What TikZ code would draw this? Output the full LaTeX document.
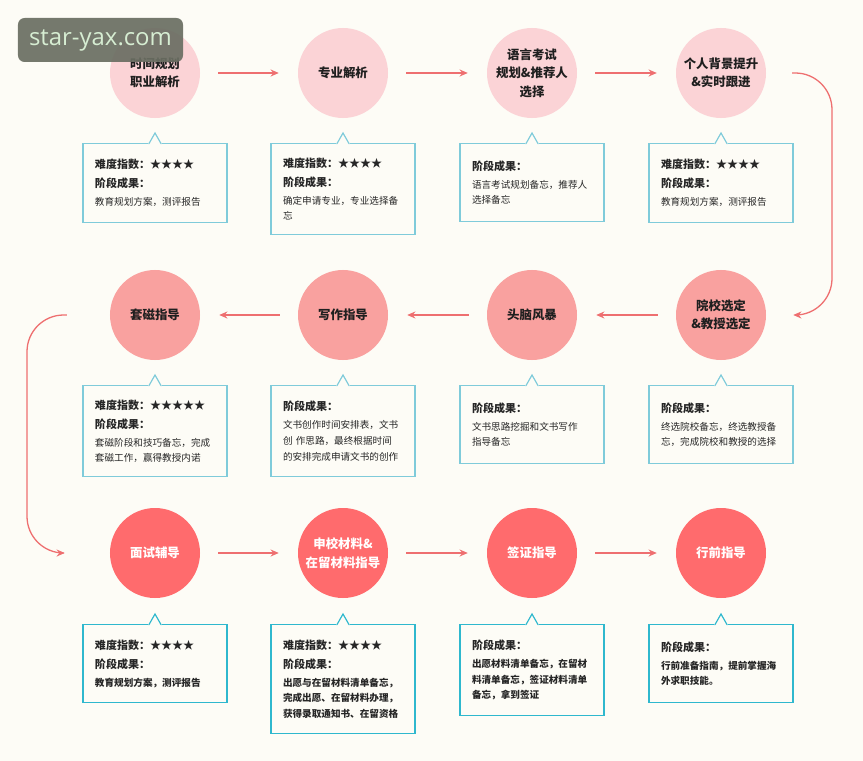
\documentclass[tikz,border=0pt]{standalone}
\usepackage{fontspec}
\newfontfamily\cjk{Noto Sans CJK SC}
\newfontfamily\wmfont{Open Sans}
\usetikzlibrary{arrows.meta}

\definecolor{bgpaper}{HTML}{FDFCF6}
\definecolor{pinkA}{HTML}{FBD3D6}
\definecolor{pinkB}{HTML}{F9A19F}
\definecolor{pinkC}{HTML}{FF6B6D}
\definecolor{arrowred}{HTML}{EE6F70}
\definecolor{boxblue}{HTML}{7FCBDA}
\definecolor{boxcyan}{HTML}{2FB8CE}
\definecolor{wmgray}{HTML}{6A6E62}
\definecolor{wmtext}{HTML}{D6EDD2}

\newcommand{\hd}[1]{{\bfseries\fontsize{9.4}{13.3}\selectfont #1}}
\newcommand{\notch}[2]{%
  \fill[bgpaper] ([xshift=-0.2cm,yshift=-1pt]#1.north) rectangle ([xshift=0.2cm]#1.north);
  \fill[bgpaper] ([xshift=-0.18cm,yshift=-0.5pt]#1.north) -- ([yshift=0.3cm]#1.north) -- ([xshift=0.18cm,yshift=-0.5pt]#1.north) -- cycle;
  \draw[#2, line width=1pt] ([xshift=-0.2cm,yshift=-0.5pt]#1.north) -- ([xshift=-0.18cm,yshift=-0.5pt]#1.north) -- ([yshift=0.3cm]#1.north) -- ([xshift=0.18cm,yshift=-0.5pt]#1.north) -- ([xshift=0.2cm,yshift=-0.5pt]#1.north);}

\tikzset{
  phase/.style={circle, minimum size=2.7cm, inner sep=0pt, align=center, text=black!88,
    font=\cjk\bfseries\fontsize{10.6}{15.8}\selectfont},
  phaseA/.style={phase, fill=pinkA},
  phaseB/.style={phase, fill=pinkB},
  phaseC/.style={phase, fill=pinkC, text=white},
  info/.style={draw=boxblue, line width=1pt, anchor=north, text width=3.6cm, inner xsep=0.36cm,
    inner ysep=0pt, align=left, text=black!85, font=\cjk\fontsize{8.2}{13.3}\selectfont},
  infoC/.style={info, draw=boxcyan, font=\cjk\bfseries\fontsize{8.2}{13.3}\selectfont},
  flow/.style={draw=arrowred, line width=1.1pt, -{Stealth[length=7pt,width=6pt]}},
  wmbox/.style={fill=wmgray, fill opacity=0.92, text opacity=1, text=wmtext, rounded corners=0.2cm,
    minimum width=4.95cm, minimum height=1.32cm, font=\wmfont\fontsize{20.4}{24}\selectfont}
}

\begin{document}
\begin{tikzpicture}[x=0.03cm, y=-0.03cm]
        \useasboundingbox (0,0) rectangle (863,761);
        \fill[bgpaper] (0,0) rectangle (863,761);

        %%%%%%%%% Fasi riga 1 %%%%%%%%%
        \node[phaseA] (p1) at (155,73) {时间规划\\职业解析};
        \node[phaseA] (p2) at (343,73) {专业解析};
        \node[phaseA] (p3) at (532,73) {语言考试\\规划\&推荐人\\选择};
        \node[phaseA] (p4) at (721,73) {个人背景提升\\\&实时跟进};

        %%%%%%%%% Fasi riga 2 %%%%%%%%%
        \node[phaseB] (p5) at (721,315) {院校选定\\\&教授选定};
        \node[phaseB] (p6) at (532,315) {头脑风暴};
        \node[phaseB] (p7) at (343,315) {写作指导};
        \node[phaseB] (p8) at (155,315) {套磁指导};

        %%%%%%%%% Fasi riga 3 %%%%%%%%%
        \node[phaseC] (p9) at (155,553) {面试辅导};
        \node[phaseC] (p10) at (343,553) {申校材料\&\\在留材料指导};
        \node[phaseC] (p11) at (532,553) {签证指导};
        \node[phaseC] (p12) at (721,553) {行前指导};

        %%%%%%%%% Frecce %%%%%%%%%
        \foreach \a/\b in {p1/p2,p2/p3,p3/p4,p5/p6,p6/p7,p7/p8,p9/p10,p10/p11,p11/p12}
            \draw[flow, shorten <=0.54cm, shorten >=0.57cm] (\a) -- (\b);

        \coordinate (railR) at (832,315);
        \coordinate (railL) at (27,553);
        \draw[flow, rounded corners=1.1cm] ([xshift=0.78cm]p4.east) -| (railR) -- ([xshift=0.81cm]p5.east);
        \draw[flow, rounded corners=1.1cm] ([xshift=-1.29cm]p8.west) -| (railL) -- ([xshift=-1.35cm]p9.west);

        %%%%%%%%% Risultati riga 1 %%%%%%%%%
        \node[info, minimum height=2.37cm] (b1) at (155,143)
            {\hd{难度指数：★★★★}\\[2.9pt]\hd{阶段成果：}\\[2.1pt]教育规划方案，测评报告};
        \node[info, minimum height=2.73cm] (b2) at (343,143)
            {\hd{难度指数：★★★★}\\[2.9pt]\hd{阶段成果：}\\[2.1pt]确定申请专业，专业选择备\\忘};
        \node[info, minimum height=2.34cm] (b3) at (532,143)
            {\hd{阶段成果：}\\[2.1pt]语言考试规划备忘，推荐人\\选择备忘};
        \node[info, minimum height=2.37cm] (b4) at (721,143)
            {\hd{难度指数：★★★★}\\[2.9pt]\hd{阶段成果：}\\[2.1pt]教育规划方案，测评报告};

        %%%%%%%%% Risultati riga 2 %%%%%%%%%
        \node[info, minimum height=2.34cm] (b5) at (721,385)
            {\hd{阶段成果：}\\[2.1pt]终选院校备忘，终选教授备\\忘，完成院校和教授的选择};
        \node[info, minimum height=2.34cm] (b6) at (532,385)
            {\hd{阶段成果：}\\[2.1pt]文书思路挖掘和文书写作\\指导备忘};
        \node[info, minimum height=2.73cm] (b7) at (343,385)
            {\hd{阶段成果：}\\[2.1pt]文书创作时间安排表，文书\\创 作思路，最终根据时间\\的安排完成申请文书的创作};
        \node[info, minimum height=2.73cm] (b8) at (155,385)
            {\hd{难度指数：★★★★★}\\[2.9pt]\hd{阶段成果：}\\[2.1pt]套磁阶段和技巧备忘，完成\\套磁工作，赢得教授内诺};

        %%%%%%%%% Risultati riga 3 %%%%%%%%%
        \node[infoC, minimum height=2.34cm] (b9) at (155,624)
            {\hd{难度指数：★★★★}\\[2.9pt]\hd{阶段成果：}\\[2.1pt]教育规划方案，测评报告};
        \node[infoC, minimum height=3.27cm] (b10) at (343,624)
            {\hd{难度指数：★★★★}\\[2.9pt]\hd{阶段成果：}\\[2.1pt]出愿与在留材料清单备忘，\\完成出愿、在留材料办理，\\获得录取通知书、在留资格};
        \node[infoC, minimum height=2.73cm] (b11) at (532,624)
            {\hd{阶段成果：}\\[2.1pt]出愿材料清单备忘，在留材\\料清单备忘，签证材料清单\\备忘，拿到签证};
        \node[infoC, minimum height=2.34cm] (b12) at (721,624)
            {\hd{阶段成果：}\\[2.1pt]行前准备指南，提前掌握海\\外求职技能。};

        %%%%%%%%% Linguette %%%%%%%%%
        \foreach \i in {1,...,8}
            \notch{b\i}{boxblue};
        \foreach \i in {9,...,12}
            \notch{b\i}{boxcyan};

        %%%%%%%%% Filigrana %%%%%%%%%
        \node[wmbox] (wm) at (100.5,40) {star-yax.com};
    \end{tikzpicture}
\end{document}
